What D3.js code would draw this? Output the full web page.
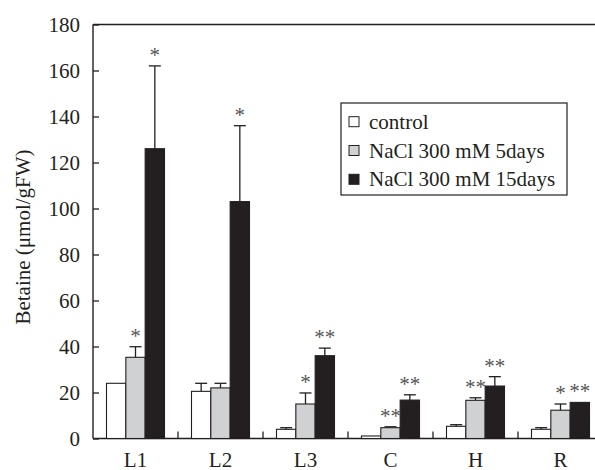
<!DOCTYPE html>
<meta charset="utf-8">
<head>
<!-- Load d3.js -->
<script src="https://d3js.org/d3.v7.min.js"></script>
<style>
  body { margin: 0; background: #fff; }
  text { font-family: "Liberation Serif", "Times New Roman", serif; fill: #231f20; }
</style>
</head>
<body>
<div id="chart"></div>
<script>

// categories (plant parts) and the three treatments
var categories = ["L1", "L2", "L3", "C", "H", "R"];
var series = ["control", "NaCl 300 mM 5days", "NaCl 300 mM 15days"];

// mean betaine content, one array per treatment (umol/gFW)
var controlVals = [24, 20.5, 4, 1.1, 5.3, 4];
var day5Vals    = [35.3, 22, 15, 4.7, 16.6, 12.3];
var day15Vals   = [126, 103, 36, 16.7, 22.8, 15.7];

// upper error (standard deviation)
var controlErr = [0, 3.5, 0.7, 0, 0.7, 0.7];
var day5Err    = [4.6, 2, 4.8, 0.4, 1.1, 2.7];
var day15Err   = [36, 33, 3.3, 2.3, 4.1, 0];

// significance marks
var controlSig = ["", "", "", "", "", ""];
var day5Sig    = ["*", "", "*", "**", "**", "*"];
var day15Sig   = ["*", "*", "**", "**", "**", "**"];

var yTicks = [0, 20, 40, 60, 80, 100, 120, 140, 160, 180];

var colors = ["#ffffff", "#d0d1d3", "#231f20"];

// build rows for drawing
var vals = [controlVals, day5Vals, day15Vals];
var errs = [controlErr, day5Err, day15Err];
var sigs = [controlSig, day5Sig, day15Sig];
var rows = [];
categories.forEach(function(c, i) {
  series.forEach(function(s, j) {
    rows.push({cat: c, series: s, si: j, value: vals[j][i], err: errs[j][i], sig: sigs[j][i]});
  });
});

var W = 595, H = 470;
var plotLeft = 93, plotTop = 24.5, plotBottom = 438.5;

var svg = d3.select("#chart").append("svg")
  .attr("width", W).attr("height", H);

// x: each category slot is ~85px, the last one runs off the right edge
var x = d3.scaleBand()
  .domain(categories)
  .range([plotLeft, plotLeft + 85 * categories.length])
  .paddingInner(0).paddingOuter(0);

var groupW = 58;
var xs = d3.scaleBand()
  .domain(series)
  .range([0, groupW]);

var y = d3.scaleLinear()
  .domain([0, 180])
  .range([plotBottom, plotTop]);

var axisColor = "#231f20";

// y axis with inward ticks
var yAxis = svg.append("g")
  .attr("transform", "translate(" + plotLeft + ",0)")
  .call(d3.axisLeft(y).tickValues(yTicks).tickSizeInner(-6).tickSizeOuter(0).tickPadding(13));
yAxis.select(".domain").remove();
yAxis.selectAll(".tick line").attr("stroke", axisColor).attr("stroke-width", 1.3);
yAxis.selectAll(".tick text")
  .attr("font-size", "21px")
  .attr("fill", axisColor)
  .attr("dy", "0.34em");

// frame lines: left, top and baseline
svg.append("line").attr("x1", plotLeft).attr("x2", plotLeft).attr("y1", plotTop).attr("y2", plotBottom)
  .attr("stroke", axisColor).attr("stroke-width", 1.4);
svg.append("line").attr("x1", plotLeft).attr("x2", W).attr("y1", plotTop).attr("y2", plotTop)
  .attr("stroke", axisColor).attr("stroke-width", 1.4);
svg.append("line").attr("x1", plotLeft).attr("x2", W).attr("y1", plotBottom).attr("y2", plotBottom)
  .attr("stroke", axisColor).attr("stroke-width", 1.4);

// little separator ticks between categories
svg.selectAll(".sep")
  .data(categories.slice(1))
  .enter().append("line")
    .attr("x1", function(d){ return x(d) })
    .attr("x2", function(d){ return x(d) })
    .attr("y1", plotBottom)
    .attr("y2", plotBottom - 7)
    .attr("stroke", axisColor).attr("stroke-width", 1.3);

// category labels
svg.selectAll(".catlab")
  .data(categories)
  .enter().append("text")
    .attr("x", function(d){ return x(d) + x.bandwidth() / 2 })
    .attr("y", 467)
    .attr("text-anchor", "middle")
    .attr("font-size", "21px")
    .text(function(d){ return d });

function barX(d) {
  return x(d.cat) + (x.bandwidth() - groupW) / 2 + xs(d.series);
}

// error bars (upper only)
var eb = svg.selectAll(".err")
  .data(rows.filter(function(d){ return d.err > 0 }))
  .enter().append("g");
eb.append("line")
  .attr("x1", function(d){ return barX(d) + xs.bandwidth() / 2 })
  .attr("x2", function(d){ return barX(d) + xs.bandwidth() / 2 })
  .attr("y1", function(d){ return y(d.value) })
  .attr("y2", function(d){ return y(d.value + d.err) })
  .attr("stroke", axisColor).attr("stroke-width", 1.3);
eb.append("line")
  .attr("x1", function(d){ return barX(d) + xs.bandwidth() / 2 - 6 })
  .attr("x2", function(d){ return barX(d) + xs.bandwidth() / 2 + 6 })
  .attr("y1", function(d){ return y(d.value + d.err) })
  .attr("y2", function(d){ return y(d.value + d.err) })
  .attr("stroke", axisColor).attr("stroke-width", 1.3);

// bars
svg.selectAll(".bar")
  .data(rows)
  .enter().append("rect")
    .attr("x", barX)
    .attr("y", function(d){ return y(d.value) })
    .attr("width", xs.bandwidth())
    .attr("height", function(d){ return plotBottom - y(d.value) })
    .attr("fill", function(d){ return colors[d.si] })
    .attr("stroke", axisColor)
    .attr("stroke-width", 1.1);

// significance stars
svg.selectAll(".sig")
  .data(rows.filter(function(d){ return d.sig }))
  .enter().append("text")
    .attr("x", function(d){ return barX(d) + xs.bandwidth() / 2 })
    .attr("y", function(d){ return y(d.value + d.err) - 4 })
    .attr("text-anchor", "middle")
    .attr("font-size", "21px")
    .style("fill", "#555")
    .text(function(d){ return d.sig });

// y axis title
svg.append("text")
  .attr("transform", "translate(30,237) rotate(-90)")
  .attr("text-anchor", "middle")
  .attr("font-size", "21px")
  .text("Betaine (\u03bcmol/gFW)");

// legend
var lg = svg.append("g").attr("transform", "translate(341,103)");
lg.append("rect")
  .attr("width", 226).attr("height", 92)
  .attr("fill", "#fff").attr("stroke", axisColor).attr("stroke-width", 1.2);
var item = lg.selectAll(".item")
  .data(series)
  .enter().append("g")
    .attr("transform", function(d, i){ return "translate(8," + (18.7 + i * 28.8) + ")" });
item.append("rect")
  .attr("x", 0).attr("y", -5).attr("width", 10).attr("height", 10)
  .attr("fill", function(d, i){ return colors[i] })
  .attr("stroke", axisColor).attr("stroke-width", 1);
item.append("text")
  .attr("x", 20).attr("y", 7)
  .attr("font-size", "21px")
  .text(function(d){ return d });

</script>
</body>
